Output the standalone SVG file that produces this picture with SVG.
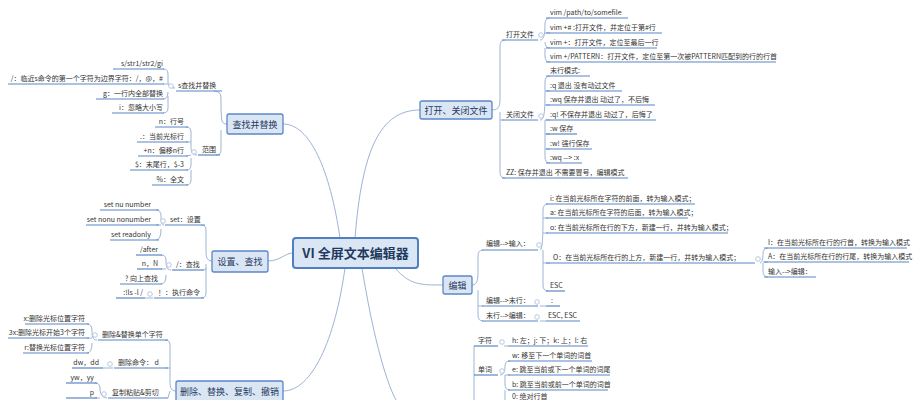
<svg xmlns="http://www.w3.org/2000/svg" width="918" height="400" viewBox="0 0 918 400">
<style>
text{font-family:"Noto Sans CJK SC","Liberation Sans",sans-serif;fill:#333;font-size:7px}
.e{text-anchor:end}
.m{text-anchor:middle;font-size:9px;fill:#1f3a5f}
.ul{stroke:#5b86c8;stroke-width:1.2;fill:none}
.br{stroke:#9db3d6;stroke-width:1;fill:none}
.mk{fill:#fff;stroke:#b8c8e0;stroke-width:1}
.box{fill:#dbe6f4;stroke:#5b86c8;stroke-width:1.3}
</style>
<rect width="918" height="400" fill="#fff"/>
<g id="connectors" class="br">
<path d="M355,238 C362,150 380,110 420,110"/>
<path d="M395,268 C410,285 420,285 443,285"/>
<path d="M362,268 C372,330 385,380 396,400"/>
<path d="M340,238 C330,170 310,124 283,124"/>
<path d="M268,261 C280,261 285,253 293,253"/>
<path d="M345,268 C335,340 312,391 283,391"/>
<path d="M227,124 C220,124 222,118 221,110 L221,98 Q221,91 214,91 M221,130 L221,150 Q221,155 216,155"/>
<path d="M175,88 C168,88 168,84 168,80 L168,74 Q168,69 163,69 M168,84 L163,84 M168,92 Q168,99 163,99 M168,96 L168,108 Q168,113 163,113"/>
<path d="M197,155 C191,155 191,150 191,146 L191,132 Q191,127 186,127 M191,142 L186,142 M191,155 L186,156 M191,158 L191,165 Q191,170 186,170 M191,170 L191,180 Q191,185 186,185"/>
<path d="M212,261 C206,261 206,255 206,250 L206,230 Q206,225 201,225 M206,264 L206,293 Q206,298 201,298 M206,268 Q206,270 204,270"/>
<path d="M164,225 C161,225 161,220 161,216 Q161,210 156,210 M161,225 L156,225 M161,229 Q161,240 156,240"/>
<path d="M171,270 C166,270 166,265 166,260 Q166,255 161,255 M166,269 L161,269 M166,275 Q166,284 161,284"/>
<path d="M153,298 L145,298"/>
<path d="M176,391 C170,391 170,385 170,380 L170,345 Q170,340 165,340 M170,368 L165,368 M170,391 L168,398"/>
<path d="M97,340 C92,340 92,335 92,331 Q92,324 87,324 M92,338 L87,338 M92,343 Q92,353 87,353"/>
<path d="M113,368 L103,368"/>
<path d="M107,398 C100,398 100,390 100,388 Q100,383 95,383 M100,398 L95,398"/>
<path d="M492,110 C500,110 500,104 500,98 L500,46 Q500,40 505,40 M500,112 L500,172 Q500,178 505,178 M500,120 L503,120"/>
<path d="M540,40 C545,40 545,30 545,24 Q545,18 550,18 M545,33 L550,33 M545,42 Q545,48 550,48 M545,48 L545,56 Q545,62 550,62"/>
<path d="M540,120 C545,120 545,110 545,82 Q545,76 550,76 M545,91 L550,91 M545,105 L550,105 M545,120 L550,120 M545,120 L545,157 Q545,163 550,163 M545,134 L550,134 M545,149 L550,149"/>
<path d="M472,285 C478,285 478,278 478,270 L478,256 Q478,250 483,250 M478,290 L478,315 Q478,321 483,321 M478,306 L483,306"/>
<path d="M540,250 C543,250 543,230 543,210 Q543,204 548,204 M543,218 L548,218 M543,233 L548,233 M543,250 L543,285 Q543,291 548,291 M543,263 L550,263"/>
<path d="M760,263 C763,263 763,255 763,254 Q763,248 768,248 M763,262 L768,262 M763,263 L763,271 Q763,277 768,277"/>
<path d="M540,306 L546,306 M540,321 L546,321"/>
<path d="M474,346 L474,400 M504,346 L508,346 M500,375 C505,375 505,368 505,366 Q505,361 510,361 M505,375 L510,375 M505,375 L505,384 Q505,390 510,390 M505,390 L505,400"/>
</g>
<g id="center"><rect x="293" y="238" width="125" height="30" rx="3" fill="#dbe6f4" stroke="#4f7ec2" stroke-width="2"/><text x="355.5" y="258" class="m" style="font-size:13px;font-weight:bold">VI 全屏文本编辑器</text></g>
<g id="n-find"><rect class="box" x="227" y="114" width="56" height="20" rx="2"/><text x="255" y="127.5" class="m">查找并替换</text></g>
<g id="n-set"><rect class="box" x="212" y="251" width="56" height="21" rx="2"/><text x="240" y="265" class="m">设置、查找</text></g>
<g id="n-del"><rect class="box" x="176" y="381" width="107" height="21" rx="2"/><text x="229.5" y="395" class="m">删除、替换、复制、撤销</text></g>
<g id="n-open"><rect class="box" x="420" y="101" width="72" height="18" rx="2"/><text x="456" y="113.5" class="m">打开、关闭文件</text></g>
<g id="n-edit"><rect class="box" x="443" y="276" width="29" height="18" rx="2"/><text x="457.5" y="288.5" class="m">编辑</text></g>
<g id="markers" class="mk">
<circle cx="171" cy="86" r="2.3"/><circle cx="194" cy="152" r="2.3"/><circle cx="163" cy="221" r="2.3"/><circle cx="169" cy="265" r="2.3"/><circle cx="150" cy="294" r="2.3"/><circle cx="95" cy="335" r="2.3"/><circle cx="110" cy="364" r="2.3"/><circle cx="104" cy="394" r="2.3"/><circle cx="541" cy="35" r="2.3"/><circle cx="541" cy="116" r="2.3"/><circle cx="539" cy="245" r="2.3"/><circle cx="758" cy="259" r="2.3"/><circle cx="537" cy="302" r="2.3"/><circle cx="537" cy="317" r="2.3"/><circle cx="502" cy="342" r="2.3"/><circle cx="502" cy="371" r="2.3"/>
</g>
<g id="left-leaves">
<g id="l1"><text x="178" y="88">s查找并替换</text><path class="ul" d="M176,91H222"/></g>
<g id="l2"><text x="163" y="66" class="e">s/str1/str2/gi</text><path class="ul" d="M113,69H164"/></g>
<g id="l3"><text x="163" y="81" class="e">/：临近s命令的第一个字符为边界字符：/，@，#</text><path class="ul" d="M8,84H164"/></g>
<g id="l4"><text x="163" y="96" class="e">g：一行内全部替换</text><path class="ul" d="M96,99H164"/></g>
<g id="l5"><text x="163" y="110" class="e">i：忽略大小写</text><path class="ul" d="M112,113H164"/></g>
<g id="l6"><text x="202" y="152">范围</text><path class="ul" d="M198,155H220"/></g>
<g id="l7"><text x="184" y="124" class="e">n：行号</text><path class="ul" d="M155,127H188"/></g>
<g id="l8"><text x="184" y="139" class="e">.：当前光标行</text><path class="ul" d="M137,142H188"/></g>
<g id="l9"><text x="184" y="153" class="e">+n：偏移n行</text><path class="ul" d="M138,156H188"/></g>
<g id="l10"><text x="184" y="167" class="e">$：末尾行，$-3</text><path class="ul" d="M130,170H188"/></g>
<g id="l11"><text x="184" y="182" class="e">%：全文</text><path class="ul" d="M152,185H188"/></g>
<g id="l12"><text x="170" y="222">set：设置</text><path class="ul" d="M165,225H205"/></g>
<g id="l13"><text x="151" y="207" class="e">set nu  number</text><path class="ul" d="M100,210H159"/></g>
<g id="l14"><text x="151" y="222" class="e">set nonu nonumber</text><path class="ul" d="M86,225H159"/></g>
<g id="l15"><text x="151" y="237" class="e">set readonly</text><path class="ul" d="M110,240H159"/></g>
<g id="l16"><text x="176" y="267">/：查找</text><path class="ul" d="M172,270H204"/></g>
<g id="l17"><text x="158" y="252" class="e">/after</text><path class="ul" d="M136,255H162"/></g>
<g id="l18"><text x="158" y="266" class="e">n，N</text><path class="ul" d="M137,269H162"/></g>
<g id="l19"><text x="158" y="281" class="e">? 向上查找</text><path class="ul" d="M120,284H162"/></g>
<g id="l20"><text x="158" y="295">！：执行命令</text><path class="ul" d="M154,298H204"/></g>
<g id="l21"><text x="143" y="295" class="e">:!ls -l /</text><path class="ul" d="M116,298H145"/></g>
<g id="l22"><text x="102" y="337">删除&amp;替换单个字符</text><path class="ul" d="M98,340H168"/></g>
<g id="l23"><text x="85" y="321" class="e">x:删除光标位置字符</text><path class="ul" d="M25,324H89"/></g>
<g id="l24"><text x="85" y="335" class="e">3x:删除光标开始3个字符</text><path class="ul" d="M8,338H89"/></g>
<g id="l25"><text x="85" y="350" class="e">r:替换光标位置字符</text><path class="ul" d="M23,353H89"/></g>
<g id="l26"><text x="118" y="365">删除命令： d</text><path class="ul" d="M114,368H168"/></g>
<g id="l27"><text x="99" y="365" class="e">dw，dd</text><path class="ul" d="M72,368H103"/></g>
<g id="l28"><text x="112" y="395">复制粘贴&amp;剪切</text><path class="ul" d="M108,398H168"/></g>
<g id="l29"><text x="94" y="380" class="e">yw，yy</text><path class="ul" d="M66,383H97"/></g>
<g id="l30"><text x="94" y="395" class="e">p</text><path class="ul" d="M66,398H97"/></g>
</g>
<g id="right-leaves">
<g id="r1"><text x="506" y="37">打开文件</text><path class="ul" d="M502,40H538"/></g>
<g id="r2"><text x="550" y="15">vim /path/to/somefile</text><path class="ul" d="M546,18H628"/></g>
<g id="r3"><text x="550" y="30">vim +# :打开文件，并定位于第#行</text><path class="ul" d="M546,33H662"/></g>
<g id="r4"><text x="550" y="45">vim +：打开文件，定位至最后一行</text><path class="ul" d="M546,48H657"/></g>
<g id="r5"><text x="550" y="59">vim +/PATTERN：打开文件，定位至第一次被PATTERN匹配到的行的行首</text><path class="ul" d="M546,62H776"/></g>
<g id="r6"><text x="506" y="117">关闭文件</text><path class="ul" d="M502,120H538"/></g>
<g id="r7"><text x="550" y="73">末行模式:</text><path class="ul" d="M546,76H590"/></g>
<g id="r8"><text x="550" y="88">:q  退出  没有动过文件</text><path class="ul" d="M546,91H622"/></g>
<g id="r9"><text x="550" y="102">:wq 保存并退出   动过了，不后悔</text><path class="ul" d="M546,105H655"/></g>
<g id="r10"><text x="550" y="117">:q! 不保存并退出   动过了，后悔了</text><path class="ul" d="M546,120H656"/></g>
<g id="r11"><text x="550" y="131">:w 保存</text><path class="ul" d="M546,134H577"/></g>
<g id="r12"><text x="550" y="146">:w! 强行保存</text><path class="ul" d="M546,149H592"/></g>
<g id="r13"><text x="550" y="160">:wq --&gt; :x</text><path class="ul" d="M546,163H582"/></g>
<g id="r14"><text x="506" y="175">ZZ: 保存并退出   不需要冒号，编辑模式</text><path class="ul" d="M502,178H628"/></g>
<g id="r15"><text x="486" y="246">编辑--&gt;输入：</text><path class="ul" d="M482,250H538"/></g>
<g id="r16"><text x="550" y="201">i: 在当前光标所在字符的前面，转为输入模式；</text><path class="ul" d="M546,204H695"/></g>
<g id="r17"><text x="550" y="215">a: 在当前光标所在字符的后面，转为输入模式；</text><path class="ul" d="M546,218H688"/></g>
<g id="r18"><text x="550" y="230">o: 在当前光标所在行的下方，新建一行，并转为输入模式；</text><path class="ul" d="M546,233H728"/></g>
<g id="r19"><text x="553" y="260">O：在当前光标所在行的上方，新建一行，并转为输入模式；</text><path class="ul" d="M546,263H755"/></g>
<g id="r20"><text x="550" y="288">ESC</text><path class="ul" d="M546,291H565"/></g>
<g id="r21"><text x="768" y="245">I：在当前光标所在行的行首，转换为输入模式</text><path class="ul" d="M764,248H907"/></g>
<g id="r22"><text x="768" y="259">A：在当前光标所在行的行尾，转换为输入模式</text><path class="ul" d="M764,262H909"/></g>
<g id="r23"><text x="768" y="274">输入--&gt;编辑：</text><path class="ul" d="M764,277H816"/></g>
<g id="r24"><text x="486" y="303">编辑--&gt;末行：</text><path class="ul" d="M482,306H538"/></g>
<g id="r25"><text x="551" y="303">:</text><path class="ul" d="M546,306H560"/></g>
<g id="r26"><text x="486" y="318">末行--&gt;编辑：</text><path class="ul" d="M482,321H538"/></g>
<g id="r27"><text x="548" y="318">ESC, ESC</text><path class="ul" d="M546,321H580"/></g>
<g id="r28"><text x="478" y="343">字符</text><path class="ul" d="M474,346H498"/></g>
<g id="r29"><text x="512" y="343">h: 左；j: 下；k: 上；l: 右</text><path class="ul" d="M508,346H588"/></g>
<g id="r30"><text x="478" y="372">单词</text><path class="ul" d="M474,375H498"/></g>
<g id="r31"><text x="512" y="358">w: 移至下一个单词的词首</text><path class="ul" d="M508,361H592"/></g>
<g id="r32"><text x="512" y="372">e: 跳至当前或下一个单词的词尾</text><path class="ul" d="M508,375H610"/></g>
<g id="r33"><text x="512" y="387">b: 跳至当前或前一个单词的词首</text><path class="ul" d="M508,390H608"/></g>
<g id="r34"><text x="512" y="399">0: 绝对行首</text></g>
</g>
</svg>
